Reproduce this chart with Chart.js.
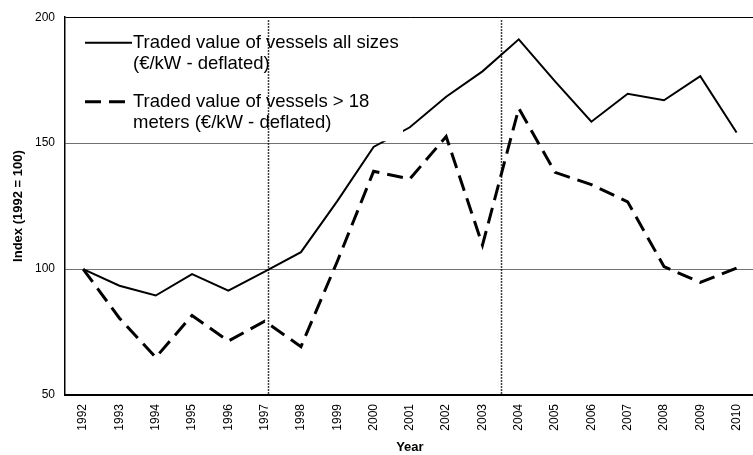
<!DOCTYPE html>
<html>
<head>
<meta charset="utf-8">
<script src="https://cdn.jsdelivr.net/npm/chart.js@4/dist/chart.umd.min.js"></script>
<style>
  html, body { margin: 0; padding: 0; background: #fff; overflow: hidden; }
  #wrap { width: 760px; height: 455px; }
</style>
</head>
<body>
<div id="wrap"><canvas id="grafico" width="760" height="455"></canvas></div>
<script>
// Dados
var years = ['1992', '1993', '1994', '1995', '1996', '1997', '1998', '1999', '2000', '2001',
             '2002', '2003', '2004', '2005', '2006', '2007', '2008', '2009', '2010'];
var allSizes = [100, 93.4, 89.5, 98, 91.4, 99, 106.7, 127, 148.5, 156.3,
                168.4, 178.5, 191.2, 174.5, 158.5, 169.6, 167, 176.6, 154.2];
var over18m = [100, 80.5, 64.9, 81.6, 71.4, 79.3, 69.2, 103, 138.8, 135.8,
               152.6, 109.5, 163.8, 138.4, 133.5, 126.7, 101, 94.7, 100.4];
var legendAllSizes = ['Traded value of vessels all sizes', '(€/kW - deflated)'];
var legendOver18m = ['Traded value of vessels > 18', 'meters (€/kW - deflated)'];
var markerYears = [1997.08, 2003.5];
var yTicks = [50, 100, 150, 200];

var FONT = "'Liberation Sans', Arial, sans-serif";

// Legenda com fundo branco dentro da área do gráfico
var boxLegend = {
  id: 'boxLegend',
  afterDatasetsDraw: function (chart) {
    var ctx = chart.ctx;
    var area = chart.chartArea;
    ctx.save();
    ctx.fillStyle = '#fff';
    ctx.fillRect(area.left + 4, area.top + 4, 334, 120);

    var entries = [
      { lines: legendAllSizes, ds: chart.data.datasets[0] },
      { lines: legendOver18m, ds: chart.data.datasets[1] }
    ];
    ctx.font = '18.5px ' + FONT;
    ctx.fillStyle = '#000';
    ctx.textBaseline = 'middle';
    ctx.textAlign = 'left';
    entries.forEach(function (e, i) {
      var y = area.top + 25.5 + i * 59;
      ctx.beginPath();
      ctx.strokeStyle = '#000';
      ctx.lineWidth = e.ds.borderWidth;
      ctx.setLineDash(e.ds.borderDash || []);
      ctx.moveTo(area.left + 20, y);
      ctx.lineTo(area.left + 67, y);
      ctx.stroke();
      e.lines.forEach(function (t, j) {
        ctx.fillText(t, area.left + 68, y + j * 21);
      });
    });

    // Linhas verticais pontilhadas
    var xs = chart.scales.x;
    ctx.setLineDash([1.5, 1.5]);
    ctx.lineWidth = 1.5;
    ctx.strokeStyle = '#000';
    markerYears.forEach(function (yr) {
      var px = Math.round(xs.getPixelForValue(yr - Number(years[0]))) + 0.5;
      ctx.beginPath();
      ctx.moveTo(px, area.top + 3);
      ctx.lineTo(px, area.bottom);
      ctx.stroke();
    });
    ctx.restore();
  }
};

new Chart(document.getElementById('grafico').getContext('2d'), {
  type: 'line',
  data: {
    labels: years,
    datasets: [
      {
        label: legendAllSizes.join(' '),
        data: allSizes,
        borderColor: '#000',
        borderWidth: 2,
        pointRadius: 0,
        fill: false,
        tension: 0
      },
      {
        label: legendOver18m.join(' '),
        data: over18m,
        borderColor: '#000',
        borderWidth: 3,
        borderDash: [16, 8],
        pointRadius: 0,
        fill: false,
        tension: 0
      }
    ]
  },
  options: {
    responsive: false,
    animation: false,
    layout: { padding: { top: 16, right: 1, left: 0, bottom: 0 } },
    plugins: {
      legend: { display: false },
      tooltip: { enabled: false }
    },
    scales: {
      x: {
        offset: true,
        grid: { display: false, drawTicks: false },
        border: { display: true, color: '#000', width: 2 },
        ticks: {
          minRotation: 90, maxRotation: 90, autoSkip: false, padding: 9,
          font: { family: FONT, size: 12 }, color: '#000'
        },
        title: {
          display: true, text: 'Year', color: '#000',
          font: { family: FONT, size: 13, weight: 'bold' },
          padding: { top: 0, bottom: 0 }
        },
        afterFit: function (scale) { scale.height = 60; }
      },
      y: {
        min: 50, max: 200,
        afterBuildTicks: function (scale) {
          scale.ticks = yTicks.map(function (v) { return { value: v }; });
        },
        grid: {
          drawTicks: false,
          color: function (c) { return c.tick && c.tick.value === 200 ? '#000' : '#707070'; },
          lineWidth: 1
        },
        border: { display: true, color: '#000', width: 1.5 },
        ticks: { padding: 10, font: { family: FONT, size: 12 }, color: '#000' },
        title: {
          display: true, text: 'Index (1992 = 100)', color: '#000',
          font: { family: FONT, size: 13, weight: 'bold' },
          padding: { top: 11, bottom: 0 }
        },
        afterFit: function (scale) { scale.width = 65; }
      }
    }
  },
  plugins: [boxLegend]
});
</script>
</body>
</html>
